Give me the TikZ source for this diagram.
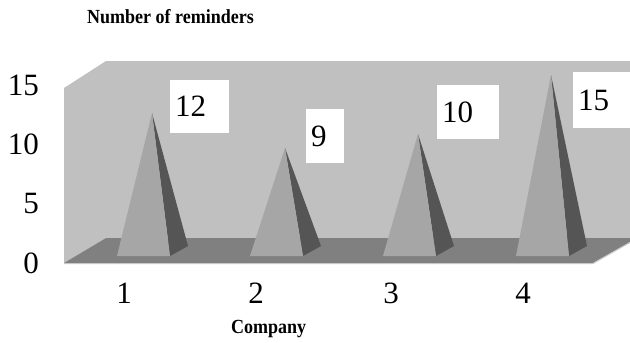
\documentclass[tikz,border=0pt]{standalone}
\usepackage{fontspec}
\usepackage{graphicx}
\setmainfont{Liberation Serif}
\definecolor{wallc}{HTML}{C0C0C0}
\definecolor{floorc}{HTML}{808080}
\definecolor{facec}{HTML}{A6A6A6}
\definecolor{sidec}{HTML}{555555}
\definecolor{edgec}{HTML}{C8C8C8}
\newcommand{\narrowtxt}[1]{\scalebox{0.9}[1]{#1}}
\begin{document}
\begin{tikzpicture}[x=1pt,y=-1pt,
  numtxt/.style={font=\fontsize{31}{31}\selectfont, inner sep=0pt},
  ylab/.style={numtxt, anchor=base east},
  xlab/.style={numtxt, anchor=base},
  titletxt/.style={font=\fontsize{20}{20}\selectfont\bfseries, inner sep=0pt, anchor=base west},
  datalab/.style={fill=white, font=\fontsize{31}{31}\selectfont, inner xsep=5pt, inner ysep=0pt, anchor=north west, align=left},
  front/.style={fill=facec, draw=none},
  side/.style={fill=sidec, draw=none}]
\useasboundingbox (0,0) rectangle (630,343);
% walls and floor
\fill[wallc] (64,263) -- (64,88) -- (106,61) -- (630,61) -- (630,238) -- (106,238) -- cycle;
\fill[floorc] (64,263) -- (106,238) -- (630,238) -- (630,242) -- (593,263) -- cycle;
\draw[edgec, line width=1pt] (64,263.5) -- (593,263.5) -- (630,242.5);
% pyramids
\foreach \xo/\ax/\ay in {117/152/113, 250/285/148, 383/418/134, 516/551/75}{
  \fill[side] (\xo+53,256) -- (\xo+71,246) -- (\ax,\ay) -- cycle;
  \fill[front] (\xo,256) -- (\xo+53,256) -- (\ax,\ay) -- cycle;
}
% data labels
\node[datalab, text width=49pt, minimum height=53pt] (l1) at (170,80) {12};
\node[datalab, text width=28pt, minimum height=54pt] (l2) at (306,109) {9};
\node[datalab, text width=52pt, minimum height=54pt] (l3) at (437,85) {10};
\node[datalab, text width=47pt, minimum height=56pt] (l4) at (573,72) {15};
% y axis labels
\node[ylab] (y15) at (39,95) {15};
\node[ylab] (y10) at (39,154) {10};
\node[ylab] (y5) at (39,213) {5};
\node[ylab] (y0) at (39,273) {0};
% x axis labels
\node[xlab] (x1) at (124,303) {1};
\node[xlab] (x2) at (256,303) {2};
\node[xlab] (x3) at (391,303) {3};
\node[xlab] (x4) at (523,303) {4};
% titles
\node[titletxt] (title) at (87,23) {\narrowtxt{Number of reminders}};
\node[titletxt] (xtitle) at (231,333) {\narrowtxt{Company}};
\end{tikzpicture}
\end{document}
